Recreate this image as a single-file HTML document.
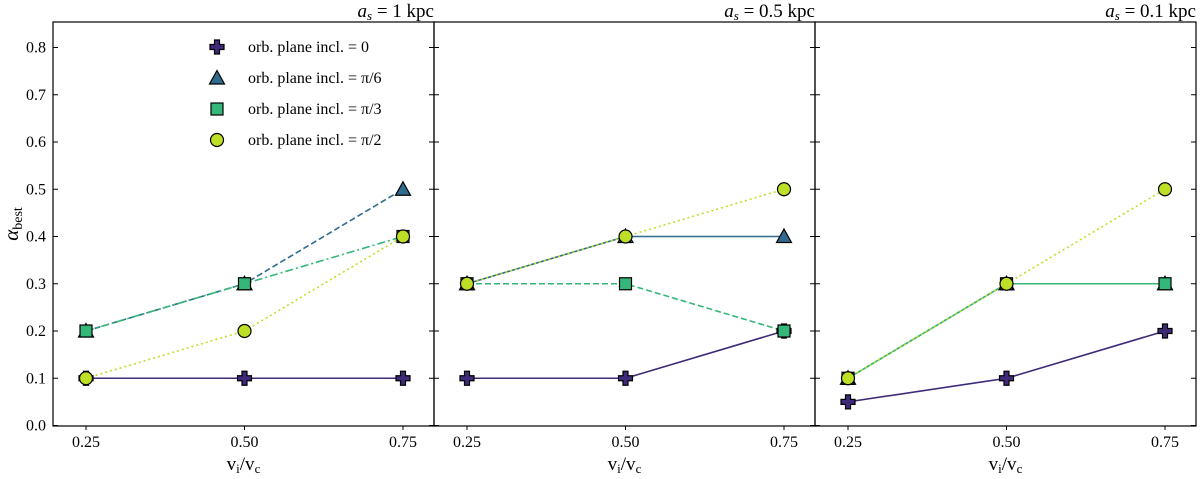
<!DOCTYPE html>
<html><head><meta charset="utf-8"><style>
body{margin:0;background:#fff;}
svg{display:block;font-family:"Liberation Serif",serif;}
</style></head><body>
<svg id="c" width="1200" height="479"></svg>
<script>
const xCats=[0.25,0.5,0.75];
const yTicks=[0.0,0.1,0.2,0.3,0.4,0.5,0.6,0.7,0.8];
const panelTitles=["1 kpc","0.5 kpc","0.1 kpc"];
const seriesNames=["0","\u03c0/6","\u03c0/3","\u03c0/2"];
const p1_incl0=[0.1,0.1,0.1];
const p1_incl30=[0.2,0.3,0.5];
const p1_incl60=[0.2,0.3,0.4];
const p1_incl90=[0.1,0.2,0.4];
const p2_incl0=[0.1,0.1,0.2];
const p2_incl30=[0.3,0.4,0.4];
const p2_incl60=[0.3,0.3,0.2];
const p2_incl90=[0.3,0.4,0.5];
const p3_incl0=[0.05,0.1,0.2];
const p3_incl30=[0.1,0.3,0.3];
const p3_incl60=[0.1,0.3,0.3];
const p3_incl90=[0.1,0.3,0.5];
const panels=[[p1_incl0,p1_incl30,p1_incl60,p1_incl90],[p2_incl0,p2_incl30,p2_incl60,p2_incl90],[p3_incl0,p3_incl30,p3_incl60,p3_incl90]];
const colors=["#3f2a79","#2f6b8e","#35b779","#bddf26"];
const dashes=[["","6,3","8,3,2,3","2,3"],["","","6,3","2,3"],["","6,3","","2,3"]];
const NS="http://www.w3.org/2000/svg";
const svgEl=document.getElementById('c');
const pl=[53,434,815],pw=381,topY=22,botY=426;
function yS(v){return 425.5-v*472.5;}
function xS(p,v){return pl[p]+33+(v-0.25)*634;}
function mk(t,a,parent){const e=document.createElementNS(NS,t);for(const k in a)e.setAttribute(k,a[k]);(parent||svgEl).appendChild(e);return e;}
function txt(x,y,s,size,anchor,parent){const t=mk('text',{x:x,y:y,'font-size':size,'text-anchor':anchor||'middle',fill:'#000'},parent);t.textContent=s;return t;}
function marker(i,x,y,g){
 let e;
 if(i===0){e=mk('path',{d:`M${x-2.5},${y-7}h5v4.5h4.5v5h-4.5v4.5h-5v-4.5h-4.5v-5h4.5z`,fill:colors[0],stroke:'#000','stroke-width':1.2},g);}
 else if(i===1){e=mk('path',{d:`M${x},${y-7.5}L${x+7.5},${y+6}L${x-7.5},${y+6}Z`,fill:colors[1],stroke:'#000','stroke-width':1.2},g);}
 else if(i===2){e=mk('rect',{x:x-6,y:y-6,width:12,height:12,fill:colors[2],stroke:'#000','stroke-width':1.2},g);}
 else {e=mk('circle',{cx:x,cy:y,r:6.5,fill:colors[3],stroke:'#000','stroke-width':1.2},g);}
 return e;
}
for(let p=0;p<3;p++){
 const g=mk('g',{});
 
 
 const fr=mk('rect',{x:pl[p],y:topY,width:pw,height:botY-topY,fill:'none',stroke:'#000','stroke-width':1.2},g);
 
 
 yTicks.forEach(v=>{
  const y=yS(v);
  mk('line',{x1:pl[p],x2:pl[p]+5,y1:y,y2:y,stroke:'#000'},g);
  mk('line',{x1:pl[p]+pw,x2:pl[p]+pw-5,y1:y,y2:y,stroke:'#000'},g);
  if(p===0){const t=txt(pl[p]-7,y+5,v.toFixed(1),16,'end',g);}
 });
 xCats.forEach(v=>{
  const x=xS(p,v);
  mk('line',{x1:x,x2:x,y1:botY,y2:botY+4,stroke:'#000'},g);
  const t=txt(x,botY+21,v.toFixed(2),16,'middle',g);
  
  
 });
 const xl=txt(pl[p]+pw/2,botY+44,'',19,'middle',g);
 xl.innerHTML='v<tspan font-size="13" dy="3">i</tspan><tspan dy="-3">/v</tspan><tspan font-size="13" dy="3">c</tspan>';
 
 
 const tt=txt(pl[p]+pw,17,'',19,'end',g);
 tt.innerHTML='<tspan font-style="italic">a</tspan><tspan font-style="italic" font-size="13" dy="3">s</tspan><tspan dy="-3"> =  '+panelTitles[p]+'</tspan>';
 
 
 panels[p].forEach((vals,i)=>{
  const pts=vals.map((v,j)=>xS(p,xCats[j])+','+yS(v)).join(' ');
  const l=mk('polyline',{points:pts,fill:'none',stroke:colors[i],'stroke-width':1.6,'stroke-dasharray':dashes[p][i]},g);
  
  
 });
 panels[p].forEach((vals,i)=>{
  vals.forEach((v,j)=>{
   const m=marker(i,xS(p,xCats[j]),yS(v),g);
   
   
  });
 });
}
const yl=txt(0,0,'',21,'middle');
yl.setAttribute('transform','translate(18,224) rotate(-90)');
yl.innerHTML='<tspan font-style="italic">α</tspan><tspan font-size="14" dy="4">best</tspan>';


const lg=mk('g',{});


seriesNames.forEach((s,i)=>{
 const y=47+i*31;
 marker(i,217,y,lg);
 const t=txt(248,y+5,'orb. plane incl. = '+s,16,'start',lg);
 
 
});
</script>
</body></html>
